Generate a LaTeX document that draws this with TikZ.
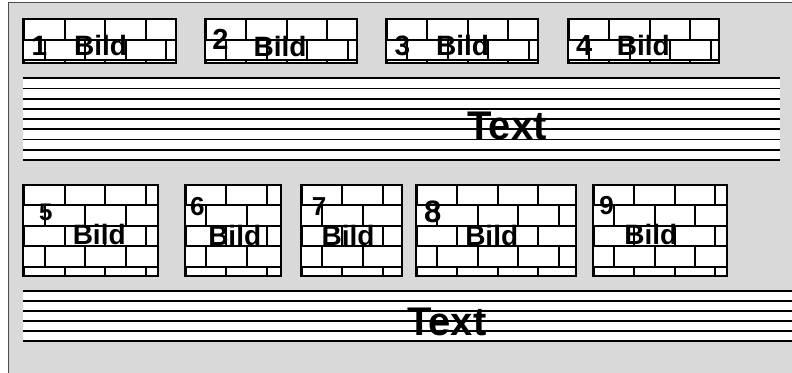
\documentclass[tikz,border=0pt]{standalone}
\usepackage{fontspec}
\setmainfont{Liberation Sans}
\usetikzlibrary{positioning, calc}
\usepackage[svgnames,table]{xcolor}

\definecolor{grund}{HTML}{D9D9D9}
\definecolor{rahmen}{HTML}{4D4D4D}

\tikzset{
  ziegel/.style={line width=2pt, black},
  zeile/.style={line width=1.8pt, black},
  bild/.style={draw=black, line width=2pt, fill=white, inner sep=0pt, outer sep=0pt, anchor=north west,
    path picture={
      \foreach \r in {0,...,4} {
        \draw[ziegel] ([yshift=-\r*20.5pt]path picture bounding box.north west) -- ++(200pt,0pt);
        \pgfmathsetmacro{\versatz}{mod(\r,2)==0 ? 0.8 : 21.3}
        \foreach \k in {0,...,4}
          \draw[ziegel] ([xshift=\versatz pt+\k*40.5pt, yshift=-\r*20.5pt]path picture bounding box.north west) -- ++(0pt,-20.5pt);
      }
    }},
  wort/.style={font=\bfseries\fontsize{28}{30}\selectfont, inner sep=0pt, anchor=base},
  zahl/.style={font=\bfseries\fontsize{#1}{#1}\selectfont, inner sep=0pt, anchor=base},
  titel/.style={font=\bfseries\fontsize{40}{42}\selectfont, inner sep=0pt, anchor=base}
}

\begin{document}
\begin{tikzpicture}[x=1pt, y=-1pt]
  \useasboundingbox (0,0) rectangle (792,372);
  \clip (0,0) rectangle (792,372);

  % Hintergrund
  \fill[grund] (8.3,2.3) rectangle (800,380);
  \draw[rahmen, line width=1.5pt] (8.3,380) -- (8.3,2.3) -- (800,2.3);

  % obere Bildreihe
  \node[bild, minimum width=152.7pt, minimum height=43.7pt] (b1) at (23.3,19) {};
  \node[bild, minimum width=151.7pt, minimum height=43.7pt] (b2) at (205,19) {};
  \node[bild, minimum width=151.7pt, minimum height=43.7pt] (b3) at (386,19) {};
  \node[bild, minimum width=151.6pt, minimum height=43.7pt] (b4) at (567.7,19) {};

  \node[zahl=28] (z1) at (39.5,55) {1};
  \node[zahl=29] (z2) at (220.5,49) {2};
  \node[zahl=28] (z3) at (402.5,55) {3};
  \node[zahl=29] (z4) at (584.2,55) {4};
  \node[wort] (w1) at (100.5,55) {Bild};
  \node[wort] (w2) at (280,56) {Bild};
  \node[wort] (w3) at (462.5,55) {Bild};
  \node[wort] (w4) at (643.3,55) {Bild};

  % erster Textblock
  \fill[white] (22.7,78.3) rectangle (780,160);
  \foreach \i in {0,...,8}
    \draw[zeile] (22.7,78.3+\i*10.21) -- (780,78.3+\i*10.21);
  \node[titel] (text1) at (507,139.5) {Text};

  % untere Bildreihe
  \node[bild, minimum width=135pt, minimum height=91.6pt] (b5) at (23.3,184.7) {};
  \node[bild, minimum width=96pt, minimum height=91.6pt] (b6) at (185,184.7) {};
  \node[bild, minimum width=100.7pt, minimum height=91.6pt] (b7) at (301,184.7) {};
  \node[bild, minimum width=160pt, minimum height=91.6pt] (b8) at (416,184.7) {};
  \node[bild, minimum width=134pt, minimum height=91.6pt] (b9) at (592.7,184.7) {};

  \node[zahl=24] (z5) at (45.8,220.7) {5};
  \node[zahl=26] (z6) at (197.3,215) {6};
  \node[zahl=26] (z7) at (319,215) {7};
  \node[zahl=31] (z8) at (432.7,222.3) {8};
  \node[zahl=26] (z9) at (606.7,214.7) {9};
  \node[wort] (w5) at (99.2,244.7) {Bild};
  \node[wort] (w6) at (234.7,245) {Bild};
  \node[wort] (w7) at (348,245) {Bild};
  \node[wort] (w8) at (491.7,245) {Bild};
  \node[wort] (w9) at (650.8,244) {Bild};

  % zweiter Textblock
  \fill[white] (22.7,290.7) rectangle (800,341.3);
  \foreach \i in {0,...,5}
    \draw[zeile] (22.7,290.7+\i*10.12) -- (800,290.7+\i*10.12);
  \node[titel] (text2) at (446.7,335) {Text};
\end{tikzpicture}
\end{document}
